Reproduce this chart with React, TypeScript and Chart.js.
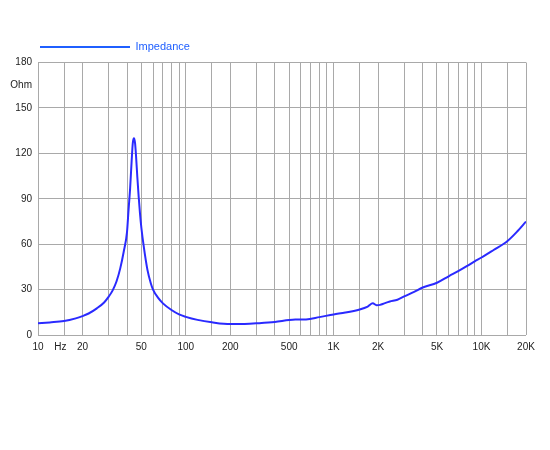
import React, { useEffect, useRef } from "react";
import { Chart, registerables } from "chart.js";

Chart.register(...registerables);

const frequencies = [
  10, 12, 15, 18, 20, 22, 25, 28, 30, 32, 34, 36, 38, 40, 41, 42, 43, 43.8, 44.6, 45.3, 46, 47, 48, 49, 50,
  52, 55, 58, 60, 65, 70, 80, 90, 100, 120, 150, 200, 250, 300, 400, 500, 550, 650, 800, 1000, 1200,
  1500, 1700, 1840, 1950, 2060, 2200, 2400, 2700, 3000, 3500, 4000, 5000, 6000, 7000, 8000, 9000,
  10000, 12000, 15000, 17500, 20000,
];

const impedance = [
  7.7, 8.3, 9.2, 11.0, 12.5, 14.2, 17.6, 21.5, 25.2, 29.5, 35.5, 44, 55, 68, 83, 97, 115, 127, 130, 127,
  119, 104, 91, 80, 71, 58, 43, 34, 30, 24.5, 20.9, 16.5, 13.6, 12.0, 10.0, 8.4, 7.2, 7.3, 7.7, 8.6,
  9.9, 10.2, 10.3, 11.8, 13.6, 14.8, 16.9, 18.8, 20.9, 19.7, 19.9, 20.9, 22.1, 23.3, 25.5, 28.5, 31.4,
  34.5, 38.8, 42.3, 45.6, 48.7, 51.2, 56, 62.1, 68.5, 74.9,
];

const xGridValues = [
  10, 14.15, 15, 20, 30, 40, 50, 60, 70, 80, 90, 100, 150, 200, 300, 400, 500, 600, 700, 800, 900,
  1000, 1500, 2000, 3000, 4000, 5000, 6000, 7000, 8000, 9000, 10000, 15000, 20000,
];
const xLabelValues = [10, 14.15, 20, 50, 100, 200, 500, 1000, 2000, 5000, 10000, 20000];
const xLabelTexts = ["10", "Hz", "20", "50", "100", "200", "500", "1K", "2K", "5K", "10K", "20K"];

const yTickValues = [0, 30, 60, 90, 120, 150, 165, 180];
const yTickTexts = ["0", "30", "60", "90", "120", "150", "Ohm", "180"];

const seriesName = "Impedance";

const FONT = "'Liberation Sans', Arial, Helvetica, sans-serif";
const GRID = "#a9a9a9";

export default function App() {
  const ref = useRef<HTMLCanvasElement | null>(null);

  useEffect(() => {
    if (!ref.current) return;
    const points = frequencies.map((f, i) => ({ x: f, y: impedance[i] }));
    const chart = new Chart(ref.current, {
      type: "line",
      data: {
        datasets: [
          {
            label: seriesName,
            data: points,
            borderColor: "#2a2aff",
            backgroundColor: "#2a2aff",
            borderWidth: 2,
            pointRadius: 0,
            cubicInterpolationMode: "monotone",
            fill: false,
          },
        ],
      },
      options: {
        animation: false,
        responsive: false,
        devicePixelRatio: 1,
        layout: { padding: { left: 0, top: 1.5, right: 24, bottom: 0 } },
        plugins: {
          tooltip: { enabled: false },
          legend: {
            display: true,
            position: "top",
            align: "start",
            labels: {
              boxWidth: 90,
              boxHeight: 2,
              padding: 40,
              color: "#1f5fff",
              font: { family: FONT, size: 11 },
              generateLabels: () => [
                {
                  text: seriesName,
                  fillStyle: "#1f5fff",
                  strokeStyle: "#1f5fff",
                  lineWidth: 0,
                  fontColor: "#1f5fff",
                  datasetIndex: 0,
                  hidden: false,
                },
              ],
            },
          },
        },
        scales: {
          x: {
            type: "logarithmic",
            min: 10,
            max: 20000,
            afterBuildTicks: (scale: any) => {
              scale.ticks = xGridValues.map((v) => ({ value: v }));
            },
            afterFit: (scale: any) => {
              scale.height = 115;
            },
            border: { display: false },
            grid: {
              drawTicks: false,
              lineWidth: 1,
              color: (ctx: any) =>
                ctx.tick && ctx.tick.value === 14.15 ? "rgba(0,0,0,0)" : GRID,
            },
            ticks: {
              autoSkip: false,
              maxRotation: 0,
              minRotation: 0,
              padding: 6,
              color: "#222",
              font: { family: FONT, size: 10 },
              callback: (value: any) => {
                const idx = xLabelValues.indexOf(Number(value));
                return idx >= 0 ? xLabelTexts[idx] : "";
              },
            },
          },
          y: {
            type: "linear",
            min: 0,
            max: 180,
            afterBuildTicks: (scale: any) => {
              scale.ticks = yTickValues.map((v) => ({ value: v }));
            },
            afterFit: (scale: any) => {
              scale.width = 38;
            },
            border: { display: false },
            grid: {
              drawTicks: false,
              lineWidth: 1,
              color: (ctx: any) =>
                ctx.tick && ctx.tick.value === 165 ? "rgba(0,0,0,0)" : GRID,
            },
            ticks: {
              autoSkip: false,
              padding: 6,
              color: "#222",
              font: { family: FONT, size: 10 },
              callback: (value: any) => {
                const idx = yTickValues.indexOf(Number(value));
                return idx >= 0 ? yTickTexts[idx] : "";
              },
            },
          },
        },
      },
    });
    return () => chart.destroy();
  }, []);

  return (
    <div style={{ position: "fixed", left: 0, top: 0, width: 550, height: 450, background: "#fff" }}>
      <canvas ref={ref} width={550} height={450} style={{ display: "block" }} />
    </div>
  );
}
